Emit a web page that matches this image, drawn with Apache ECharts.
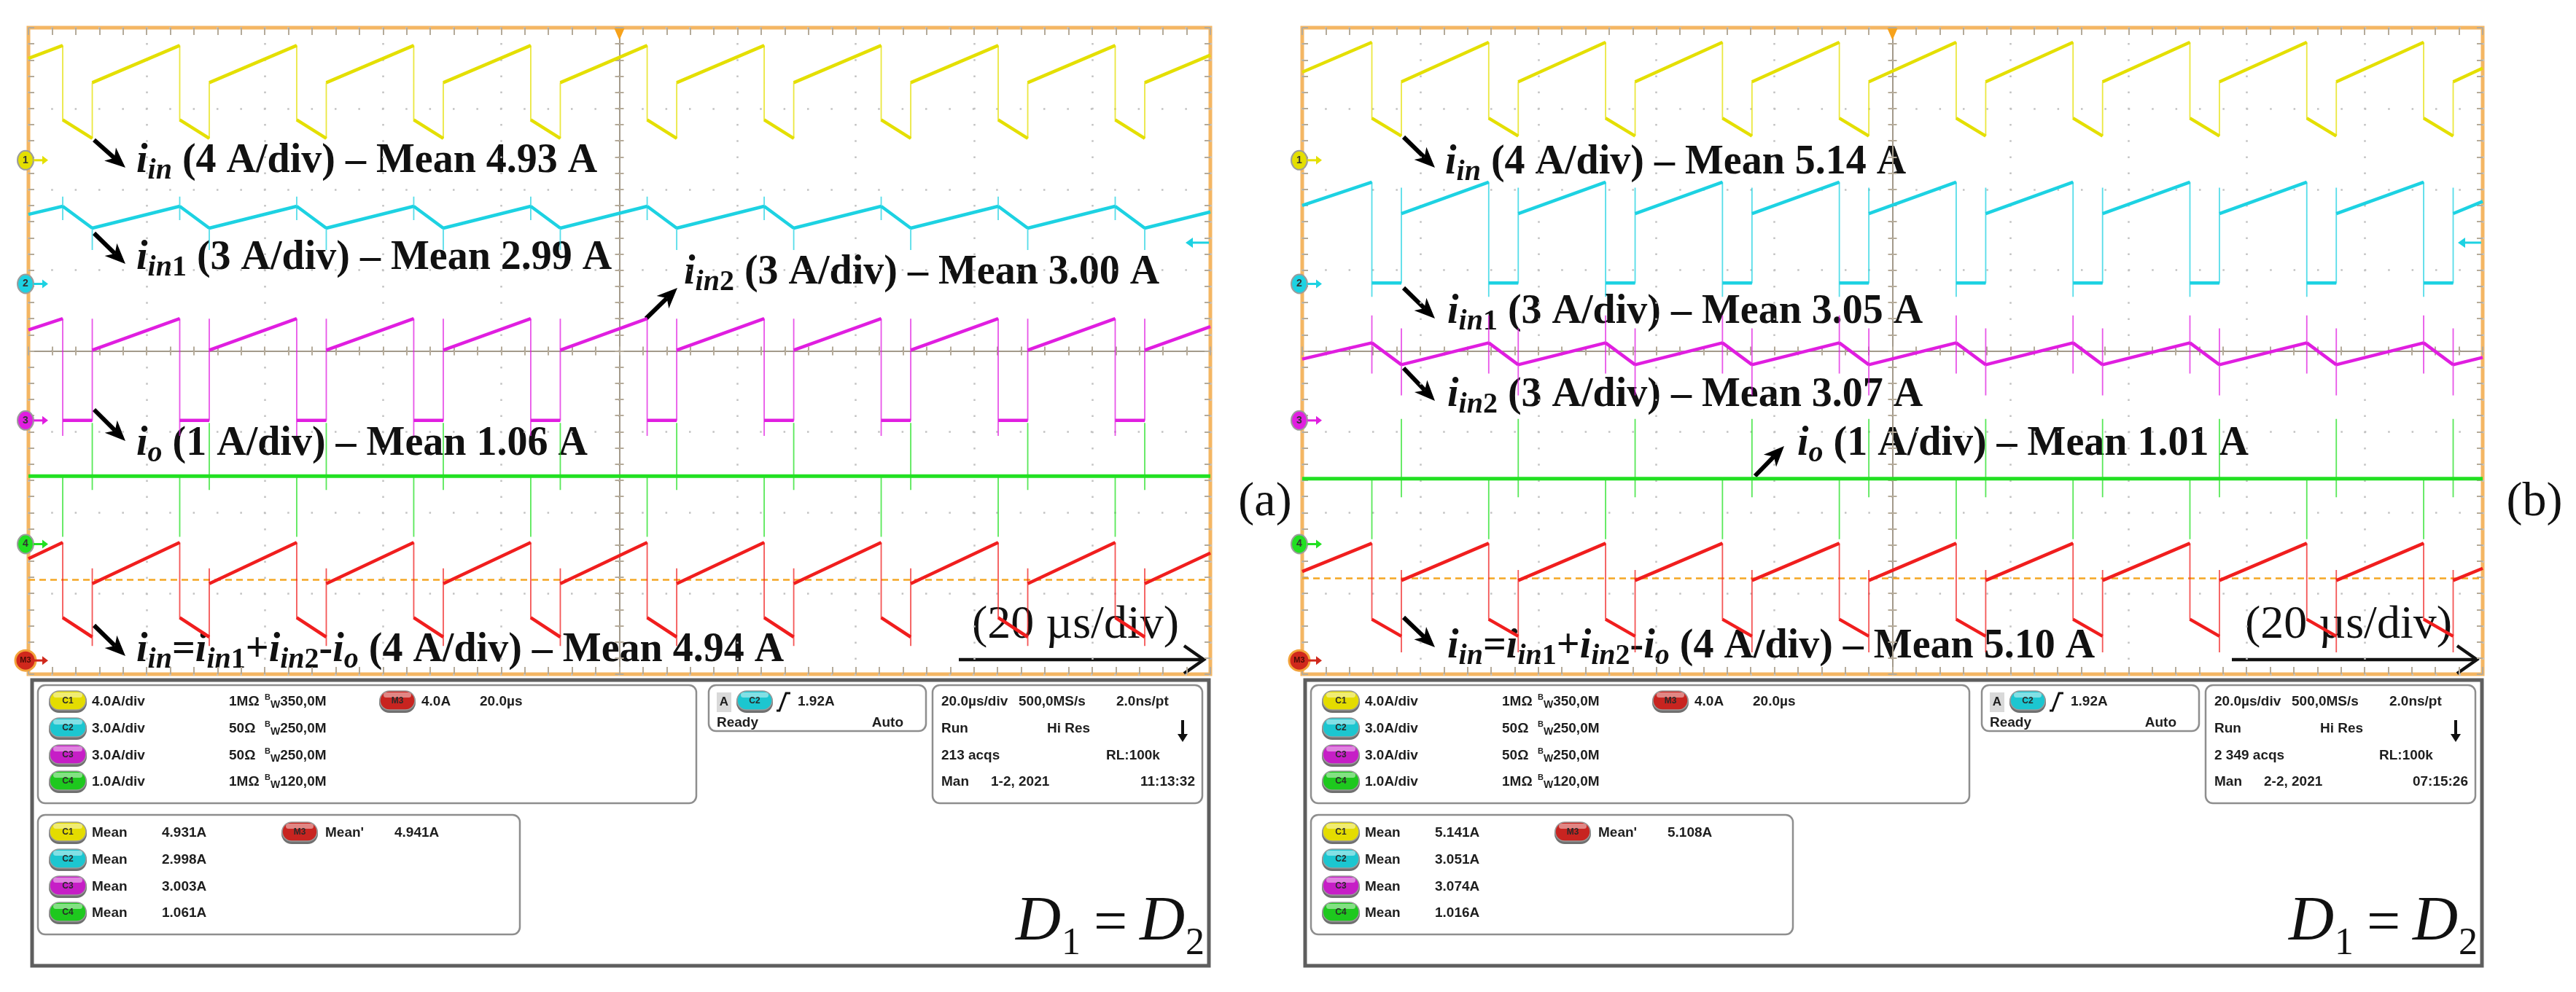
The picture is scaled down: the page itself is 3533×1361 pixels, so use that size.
<!DOCTYPE html>
<html>
<head>
<meta charset="utf-8">
<script src="https://cdn.jsdelivr.net/npm/echarts@6.0.0/dist/echarts.min.js"></script>
<style>
html,body{margin:0;padding:0;background:#ffffff;}
#chart{width:3533px;height:1361px;}
</style>
</head>
<body>
<div id="chart"></div>
<script>
// ---------------- DATA ----------------
// time in µs (20 µs/div, trigger at 0), vertical values in screen divisions (-4..4)
const yellowA = [[-100,3.62],
[-94.2,3.78],[-94.2,2.86],[-89.2,2.63],[-89.2,3.32],
[-74.4,3.78],[-74.4,2.86],[-69.4,2.63],[-69.4,3.32],
[-54.6,3.78],[-54.6,2.86],[-49.6,2.63],[-49.6,3.32],
[-34.8,3.78],[-34.8,2.86],[-29.8,2.63],[-29.8,3.32],
[-15.0,3.78],[-15.0,2.86],[-10.0,2.63],[-10.0,3.32],
[4.7,3.78],[4.7,2.86],[9.7,2.63],[9.7,3.32],
[24.5,3.78],[24.5,2.86],[29.5,2.63],[29.5,3.32],
[44.3,3.78],[44.3,2.86],[49.3,2.63],[49.3,3.32],
[64.1,3.78],[64.1,2.86],[69.1,2.63],[69.1,3.32],
[83.9,3.78],[83.9,2.86],[88.9,2.63],[88.9,3.32],
[100,3.66]];

const cyanA = [[-100,1.69],
[-94.2,1.79],[-94.2,1.91],[-94.2,1.62],[-94.2,1.79],[-89.2,1.52],[-89.2,1.25],[-89.2,1.52],
[-74.4,1.79],[-74.4,1.91],[-74.4,1.62],[-74.4,1.79],[-69.4,1.52],[-69.4,1.25],[-69.4,1.52],
[-54.6,1.79],[-54.6,1.91],[-54.6,1.62],[-54.6,1.79],[-49.6,1.52],[-49.6,1.25],[-49.6,1.52],
[-34.8,1.79],[-34.8,1.91],[-34.8,1.62],[-34.8,1.79],[-29.8,1.52],[-29.8,1.25],[-29.8,1.52],
[-15.0,1.79],[-15.0,1.91],[-15.0,1.62],[-15.0,1.79],[-10.0,1.52],[-10.0,1.25],[-10.0,1.52],
[4.7,1.79],[4.7,1.91],[4.7,1.62],[4.7,1.79],[9.7,1.52],[9.7,1.25],[9.7,1.52],
[24.5,1.79],[24.5,1.91],[24.5,1.62],[24.5,1.79],[29.5,1.52],[29.5,1.25],[29.5,1.52],
[44.3,1.79],[44.3,1.91],[44.3,1.62],[44.3,1.79],[49.3,1.52],[49.3,1.25],[49.3,1.52],
[64.1,1.79],[64.1,1.91],[64.1,1.62],[64.1,1.79],[69.1,1.52],[69.1,1.25],[69.1,1.52],
[83.9,1.79],[83.9,1.91],[83.9,1.62],[83.9,1.79],[88.9,1.52],[88.9,1.25],[88.9,1.52],
[100,1.72]];

const magentaA = [[-100,0.26],
[-94.2,0.40],[-94.2,-1.05],[-94.2,-0.86],[-89.2,-0.86],[-89.2,0.40],[-89.2,0.01],
[-74.4,0.40],[-74.4,-1.05],[-74.4,-0.86],[-69.4,-0.86],[-69.4,0.40],[-69.4,0.01],
[-54.6,0.40],[-54.6,-1.05],[-54.6,-0.86],[-49.6,-0.86],[-49.6,0.40],[-49.6,0.01],
[-34.8,0.40],[-34.8,-1.05],[-34.8,-0.86],[-29.8,-0.86],[-29.8,0.40],[-29.8,0.01],
[-15.0,0.40],[-15.0,-1.05],[-15.0,-0.86],[-10.0,-0.86],[-10.0,0.40],[-10.0,0.01],
[4.7,0.40],[4.7,-1.05],[4.7,-0.86],[9.7,-0.86],[9.7,0.40],[9.7,0.01],
[24.5,0.40],[24.5,-1.05],[24.5,-0.86],[29.5,-0.86],[29.5,0.40],[29.5,0.01],
[44.3,0.40],[44.3,-1.05],[44.3,-0.86],[49.3,-0.86],[49.3,0.40],[49.3,0.01],
[64.1,0.40],[64.1,-1.05],[64.1,-0.86],[69.1,-0.86],[69.1,0.40],[69.1,0.01],
[83.9,0.40],[83.9,-1.05],[83.9,-0.86],[88.9,-0.86],[88.9,0.40],[88.9,0.01],
[100,0.30]];

const greenA = [[-100,-1.55],
[-94.2,-1.55],[-94.2,-2.30],[-94.2,-1.55],[-89.2,-1.55],[-89.2,-0.89],[-89.2,-1.72],[-89.2,-1.55],
[-74.4,-1.55],[-74.4,-2.30],[-74.4,-1.55],[-69.4,-1.55],[-69.4,-0.89],[-69.4,-1.72],[-69.4,-1.55],
[-54.6,-1.55],[-54.6,-2.30],[-54.6,-1.55],[-49.6,-1.55],[-49.6,-0.89],[-49.6,-1.72],[-49.6,-1.55],
[-34.8,-1.55],[-34.8,-2.30],[-34.8,-1.55],[-29.8,-1.55],[-29.8,-0.89],[-29.8,-1.72],[-29.8,-1.55],
[-15.0,-1.55],[-15.0,-2.30],[-15.0,-1.55],[-10.0,-1.55],[-10.0,-0.89],[-10.0,-1.72],[-10.0,-1.55],
[4.7,-1.55],[4.7,-2.30],[4.7,-1.55],[9.7,-1.55],[9.7,-0.89],[9.7,-1.72],[9.7,-1.55],
[24.5,-1.55],[24.5,-2.30],[24.5,-1.55],[29.5,-1.55],[29.5,-0.89],[29.5,-1.72],[29.5,-1.55],
[44.3,-1.55],[44.3,-2.30],[44.3,-1.55],[49.3,-1.55],[49.3,-0.89],[49.3,-1.72],[49.3,-1.55],
[64.1,-1.55],[64.1,-2.30],[64.1,-1.55],[69.1,-1.55],[69.1,-0.89],[69.1,-1.72],[69.1,-1.55],
[83.9,-1.55],[83.9,-2.30],[83.9,-1.55],[88.9,-1.55],[88.9,-0.89],[88.9,-1.72],[88.9,-1.55],
[100,-1.55]];

const redA = [[-100,-2.57],
[-94.2,-2.37],[-94.2,-3.30],[-89.2,-3.54],[-89.2,-3.65],[-89.2,-2.69],[-89.2,-2.88],
[-74.4,-2.37],[-74.4,-3.30],[-69.4,-3.54],[-69.4,-3.65],[-69.4,-2.69],[-69.4,-2.88],
[-54.6,-2.37],[-54.6,-3.30],[-49.6,-3.54],[-49.6,-3.65],[-49.6,-2.69],[-49.6,-2.88],
[-34.8,-2.37],[-34.8,-3.30],[-29.8,-3.54],[-29.8,-3.65],[-29.8,-2.69],[-29.8,-2.88],
[-15.0,-2.37],[-15.0,-3.30],[-10.0,-3.54],[-10.0,-3.65],[-10.0,-2.69],[-10.0,-2.88],
[4.7,-2.37],[4.7,-3.30],[9.7,-3.54],[9.7,-3.65],[9.7,-2.69],[9.7,-2.88],
[24.5,-2.37],[24.5,-3.30],[29.5,-3.54],[29.5,-3.65],[29.5,-2.69],[29.5,-2.88],
[44.3,-2.37],[44.3,-3.30],[49.3,-3.54],[49.3,-3.65],[49.3,-2.69],[49.3,-2.88],
[64.1,-2.37],[64.1,-3.30],[69.1,-3.54],[69.1,-3.65],[69.1,-2.69],[69.1,-2.88],
[83.9,-2.37],[83.9,-3.30],[88.9,-3.54],[88.9,-3.65],[88.9,-2.69],[88.9,-2.88],
[100,-2.50]];

const yellowB = [[-100,3.45],
[-88.2,3.82],[-88.2,2.88],[-83.2,2.66],[-83.2,3.33],
[-68.4,3.82],[-68.4,2.88],[-63.4,2.66],[-63.4,3.33],
[-48.6,3.82],[-48.6,2.88],[-43.6,2.66],[-43.6,3.33],
[-28.8,3.82],[-28.8,2.88],[-23.8,2.66],[-23.8,3.33],
[-9.0,3.82],[-9.0,2.88],[-4.0,2.66],[-4.0,3.33],
[10.8,3.82],[10.8,2.88],[15.8,2.66],[15.8,3.33],
[30.6,3.82],[30.6,2.88],[35.6,2.66],[35.6,3.33],
[50.4,3.82],[50.4,2.88],[55.4,2.66],[55.4,3.33],
[70.2,3.82],[70.2,2.88],[75.2,2.66],[75.2,3.33],
[90.0,3.82],[90.0,2.88],[95.0,2.66],[95.0,3.33],
[100,3.50]];

const cyanB = [[-100,1.80],
[-88.2,2.09],[-88.2,0.67],[-88.2,0.84],[-83.2,0.84],[-83.2,2.02],[-83.2,1.70],
[-68.4,2.09],[-68.4,0.67],[-68.4,0.84],[-63.4,0.84],[-63.4,2.02],[-63.4,1.70],
[-48.6,2.09],[-48.6,0.67],[-48.6,0.84],[-43.6,0.84],[-43.6,2.02],[-43.6,1.70],
[-28.8,2.09],[-28.8,0.67],[-28.8,0.84],[-23.8,0.84],[-23.8,2.02],[-23.8,1.70],
[-9.0,2.09],[-9.0,0.67],[-9.0,0.84],[-4.0,0.84],[-4.0,2.02],[-4.0,1.70],
[10.8,2.09],[10.8,0.67],[10.8,0.84],[15.8,0.84],[15.8,2.02],[15.8,1.70],
[30.6,2.09],[30.6,0.67],[30.6,0.84],[35.6,0.84],[35.6,2.02],[35.6,1.70],
[50.4,2.09],[50.4,0.67],[50.4,0.84],[55.4,0.84],[55.4,2.02],[55.4,1.70],
[70.2,2.09],[70.2,0.67],[70.2,0.84],[75.2,0.84],[75.2,2.02],[75.2,1.70],
[90.0,2.09],[90.0,0.67],[90.0,0.84],[95.0,0.84],[95.0,2.02],[95.0,1.70],
[100,1.85]];

const magentaB = [[-100,-0.10],
[-88.2,0.10],[-88.2,0.44],[-88.2,-0.28],[-88.2,0.10],[-83.2,-0.17],[-83.2,-0.55],[-83.2,0.28],[-83.2,-0.17],
[-68.4,0.10],[-68.4,0.44],[-68.4,-0.28],[-68.4,0.10],[-63.4,-0.17],[-63.4,-0.55],[-63.4,0.28],[-63.4,-0.17],
[-48.6,0.10],[-48.6,0.44],[-48.6,-0.28],[-48.6,0.10],[-43.6,-0.17],[-43.6,-0.55],[-43.6,0.28],[-43.6,-0.17],
[-28.8,0.10],[-28.8,0.44],[-28.8,-0.28],[-28.8,0.10],[-23.8,-0.17],[-23.8,-0.55],[-23.8,0.28],[-23.8,-0.17],
[-9.0,0.10],[-9.0,0.44],[-9.0,-0.28],[-9.0,0.10],[-4.0,-0.17],[-4.0,-0.55],[-4.0,0.28],[-4.0,-0.17],
[10.8,0.10],[10.8,0.44],[10.8,-0.28],[10.8,0.10],[15.8,-0.17],[15.8,-0.55],[15.8,0.28],[15.8,-0.17],
[30.6,0.10],[30.6,0.44],[30.6,-0.28],[30.6,0.10],[35.6,-0.17],[35.6,-0.55],[35.6,0.28],[35.6,-0.17],
[50.4,0.10],[50.4,0.44],[50.4,-0.28],[50.4,0.10],[55.4,-0.17],[55.4,-0.55],[55.4,0.28],[55.4,-0.17],
[70.2,0.10],[70.2,0.44],[70.2,-0.28],[70.2,0.10],[75.2,-0.17],[75.2,-0.55],[75.2,0.28],[75.2,-0.17],
[90.0,0.10],[90.0,0.44],[90.0,-0.28],[90.0,0.10],[95.0,-0.17],[95.0,-0.55],[95.0,0.28],[95.0,-0.17],
[100,-0.08]];

const greenB = [[-100,-1.58],
[-88.2,-1.58],[-88.2,-2.33],[-88.2,-1.58],[-83.2,-1.58],[-83.2,-0.84],[-83.2,-1.81],[-83.2,-1.58],
[-68.4,-1.58],[-68.4,-2.33],[-68.4,-1.58],[-63.4,-1.58],[-63.4,-0.84],[-63.4,-1.81],[-63.4,-1.58],
[-48.6,-1.58],[-48.6,-2.33],[-48.6,-1.58],[-43.6,-1.58],[-43.6,-0.84],[-43.6,-1.81],[-43.6,-1.58],
[-28.8,-1.58],[-28.8,-2.33],[-28.8,-1.58],[-23.8,-1.58],[-23.8,-0.84],[-23.8,-1.81],[-23.8,-1.58],
[-9.0,-1.58],[-9.0,-2.33],[-9.0,-1.58],[-4.0,-1.58],[-4.0,-0.84],[-4.0,-1.81],[-4.0,-1.58],
[10.8,-1.58],[10.8,-2.33],[10.8,-1.58],[15.8,-1.58],[15.8,-0.84],[15.8,-1.81],[15.8,-1.58],
[30.6,-1.58],[30.6,-2.33],[30.6,-1.58],[35.6,-1.58],[35.6,-0.84],[35.6,-1.81],[35.6,-1.58],
[50.4,-1.58],[50.4,-2.33],[50.4,-1.58],[55.4,-1.58],[55.4,-0.84],[55.4,-1.81],[55.4,-1.58],
[70.2,-1.58],[70.2,-2.33],[70.2,-1.58],[75.2,-1.58],[75.2,-0.84],[75.2,-1.81],[75.2,-1.58],
[90.0,-1.58],[90.0,-2.33],[90.0,-1.58],[95.0,-1.58],[95.0,-0.84],[95.0,-1.81],[95.0,-1.58],
[100,-1.58]];

const redB = [[-100,-2.73],
[-88.2,-2.38],[-88.2,-3.32],[-83.2,-3.53],[-83.2,-3.73],[-83.2,-2.71],[-83.2,-2.84],
[-68.4,-2.38],[-68.4,-3.32],[-63.4,-3.53],[-63.4,-3.73],[-63.4,-2.71],[-63.4,-2.84],
[-48.6,-2.38],[-48.6,-3.32],[-43.6,-3.53],[-43.6,-3.73],[-43.6,-2.71],[-43.6,-2.84],
[-28.8,-2.38],[-28.8,-3.32],[-23.8,-3.53],[-23.8,-3.73],[-23.8,-2.71],[-23.8,-2.84],
[-9.0,-2.38],[-9.0,-3.32],[-4.0,-3.53],[-4.0,-3.73],[-4.0,-2.71],[-4.0,-2.84],
[10.8,-2.38],[10.8,-3.32],[15.8,-3.53],[15.8,-3.73],[15.8,-2.71],[15.8,-2.84],
[30.6,-2.38],[30.6,-3.32],[35.6,-3.53],[35.6,-3.73],[35.6,-2.71],[35.6,-2.84],
[50.4,-2.38],[50.4,-3.32],[55.4,-3.53],[55.4,-3.73],[55.4,-2.71],[55.4,-2.84],
[70.2,-2.38],[70.2,-3.32],[75.2,-3.53],[75.2,-3.73],[75.2,-2.71],[75.2,-2.84],
[90.0,-2.38],[90.0,-3.32],[95.0,-3.53],[95.0,-3.73],[95.0,-2.71],[95.0,-2.84],
[100,-2.69]];

const channelLevels = [2.36, 0.83, -0.86, -2.39, -3.83];   // ground markers 1,2,3,4,M3
const channelNames = ['1','2','3','4','M3'];
const trigLevel = 1.34;
const refLevelA = -2.83, refLevelB = -2.81;

const meanLabelsA = ['4.93','2.99','3.00','1.06','4.94'];
const meanLabelsB = ['5.14','3.05','3.07','1.01','5.10'];
const chScale = ['4.0A/div','3.0A/div','3.0A/div','1.0A/div'];
const chImp = ['1M\u03a9','50\u03a9','50\u03a9','1M\u03a9'];
const chBw = ['350,0M','250,0M','250,0M','120,0M'];
const meanValsA = ['4.931A','2.998A','3.003A','1.061A'];
const meanValsB = ['5.141A','3.051A','3.074A','1.016A'];
const m3MeanA = '4.941A', m3MeanB = '5.108A';
const acqA = '213 acqs', acqB = '2 349 acqs';
const dateA = '1-2, 2021', dateB = '2-2, 2021';
const clockA = '11:13:32', clockB = '07:15:26';

// ---------------- STYLE ----------------
const COL = {y:'#e4df00', c:'#1dd2e2', m:'#e01ee0', g:'#22e022', r:'#f01e1e'};
const FRAME = '#f4b663', TICK = '#b5ab9a', DOT = '#c2c2c2', CTR = '#a39a8b';
const SERIF = '"Liberation Serif", "Times New Roman", serif';
const SANS = '"Liberation Sans", Arial, sans-serif';

const chart = echarts.init(document.getElementById('chart'), null, {renderer:'canvas'});

function tickStyle(len){
  return {
    axisTick:{show:true, inside:true, length:len, lineStyle:{color:TICK, width:2}},
    minorTick:{show:true, splitNumber:5, length:len, lineStyle:{color:TICK, width:2}}
  };
}
function xAxes(g, yBase){
  const c = {gridIndex:g, type:'value', min:-100, max:100, interval:20, axisLabel:{show:false}, z:3, silent:true};
  return [
    Object.assign({}, c, {position:'bottom', axisLine:{show:false, onZero:false},
      splitLine:{show:true, lineStyle:{color:DOT, width:2.5, type:[2.5,19.7], dashOffset:1.2}}}, tickStyle(10)),
    Object.assign({}, c, {position:'top', axisLine:{show:false, onZero:false}, splitLine:{show:false}}, tickStyle(10)),
    Object.assign({}, c, {position:'bottom', axisLine:{show:true, onZero:true, onZeroAxisIndex:yBase, lineStyle:{color:CTR, width:2}}, splitLine:{show:false}}, tickStyle(6)),
    Object.assign({}, c, {position:'top', axisLine:{show:true, onZero:true, onZeroAxisIndex:yBase, lineStyle:{color:CTR, width:2}}, splitLine:{show:false}}, tickStyle(6))
  ];
}
function yAxes(g, xBase){
  const c = {gridIndex:g, type:'value', min:-4, max:4, interval:1, axisLabel:{show:false}, z:3, silent:true};
  return [
    Object.assign({}, c, {position:'left', axisLine:{show:false, onZero:false},
      splitLine:{show:true, lineStyle:{color:DOT, width:2.5, type:[2.5,29.9], dashOffset:1.2}}}, tickStyle(8)),
    Object.assign({}, c, {position:'right', axisLine:{show:false, onZero:false}, splitLine:{show:false}}, tickStyle(8)),
    Object.assign({}, c, {position:'left', axisLine:{show:true, onZero:true, onZeroAxisIndex:xBase, lineStyle:{color:CTR, width:2}}, splitLine:{show:false}}, tickStyle(6)),
    Object.assign({}, c, {position:'right', axisLine:{show:true, onZero:true, onZeroAxisIndex:xBase, lineStyle:{color:CTR, width:2}}, splitLine:{show:false}}, tickStyle(6))
  ];
}
function brk(pts){
  const o = [];
  for (let i = 0; i < pts.length; i++){
    if (i > 0 && pts[i][0] === pts[i-1][0]) o.push([pts[i][0], '-']);
    o.push(pts[i]);
  }
  return o;
}
function trace(pts, color, ai, wThick, extra){
  return [
    Object.assign({type:'line', xAxisIndex:ai, yAxisIndex:ai, data:pts, symbol:'none', showSymbol:false,
      animation:false, silent:true, z:5, lineStyle:{color:color, width:1.8, opacity:0.75}}, extra || {}),
    {type:'line', xAxisIndex:ai, yAxisIndex:ai, data:brk(pts), symbol:'none', showSymbol:false, connectNulls:false,
      animation:false, silent:true, z:6, lineStyle:{color:color, width:wThick}}
  ];
}
function refLine(v){
  return {markLine:{silent:true, symbol:'none', animation:false, label:{show:false},
    lineStyle:{color:'#f5a623', type:[9,6], width:2.5}, data:[{yAxis:v}]}};
}

const option = {
  animation:false,
  backgroundColor:'#ffffff',
  grid:[
    {left:39, top:38, width:1621, height:887, show:true, borderColor:FRAME, borderWidth:5, backgroundColor:'transparent'},
    {left:1786, top:38, width:1619, height:887, show:true, borderColor:FRAME, borderWidth:5, backgroundColor:'transparent'}
  ],
  xAxis: xAxes(0, 0).concat(xAxes(1, 4)),
  yAxis: yAxes(0, 0).concat(yAxes(1, 4)),
  series: [].concat(
    trace(yellowA, COL.y, 0, 4.5),
    trace(cyanA, COL.c, 0, 4.5),
    trace(magentaA, COL.m, 0, 4.5),
    trace(greenA, COL.g, 0, 5),
    trace(redA, COL.r, 0, 4.5, refLine(refLevelA)),
    trace(yellowB, COL.y, 4, 4.5),
    trace(cyanB, COL.c, 4, 4.5),
    trace(magentaB, COL.m, 4, 4.5),
    trace(greenB, COL.g, 4, 5),
    trace(redB, COL.r, 4, 4.5, refLine(refLevelB))
  )
};
chart.setOption(option);

// ---------------- GRAPHICS (annotations, markers, scope panels) ----------------
const G = [];
function T(x, y, text, o){
  o = o || {};
  const st = {x:x, y:y, text:text, fill:o.fill || '#1e1e1e', fontFamily:o.family || SANS, fontSize:o.size || 19,
    fontWeight:o.weight || 'bold', fontStyle:o.fstyle || 'normal', align:o.align || 'left', verticalAlign:o.va || 'middle',
    textAlign:o.align || 'left', textVerticalAlign:o.va || 'middle'};
  if (o.rich) st.rich = o.rich;
  return {type:'text', z:o.z || 12, silent:true, style:st};
}
function arrow(x1, y1, x2, y2, o){
  o = o || {};
  const w = o.w || 6, hl = o.hl || 28, hw = o.hw || 12, color = o.color || '#000', z = o.z || 2;
  const dx = x2 - x1, dy = y2 - y1, L = Math.hypot(dx, dy), ux = dx / L, uy = dy / L;
  const bx = x2 - ux * hl, by = y2 - uy * hl, px = -uy, py = ux;
  const nx = x2 - ux * hl * 0.72, ny = y2 - uy * hl * 0.72;
  return [
    {type:'line', z:z, silent:true, shape:{x1:x1, y1:y1, x2:nx, y2:ny}, style:{stroke:color, lineWidth:w}},
    {type:'polygon', z:z, silent:true, shape:{points:[[x2,y2],[bx+px*hw,by+py*hw],[nx,ny],[bx-px*hw,by-py*hw]]}, style:{fill:color}}
  ];
}

// channel ground markers, trigger markers
[[0, 0], [1, 4]].forEach(function(pa){
  const ai = pa[1];
  const xL = chart.convertToPixel({xAxisIndex:ai}, -100);
  const xR = chart.convertToPixel({xAxisIndex:ai}, 100);
  const xC = chart.convertToPixel({xAxisIndex:ai}, 0);
  const yTop = chart.convertToPixel({yAxisIndex:ai}, 4);
  const fills = [COL.y, COL.c, COL.m, COL.g, '#d0281c'];
  channelLevels.forEach(function(lv, i){
    const y = chart.convertToPixel({yAxisIndex:ai}, lv);
    const cx = xL - 4;
    if (i < 4) {
      G.push({type:'ellipse', z:15, silent:true, shape:{cx:cx, cy:y, rx:11, ry:13}, style:{fill:fills[i], stroke:'#9c9c9c', lineWidth:2}});
      G.push(T(cx, y, channelNames[i], {size:14, fill:'#333', align:'center', z:16}));
    } else {
      G.push({type:'circle', z:15, silent:true, shape:{cx:cx, cy:y, r:14}, style:{fill:fills[i], stroke:'#f2a23a', lineWidth:3}});
      G.push(T(cx, y, channelNames[i], {size:11, fill:'#4a0c06', align:'center', z:16}));
    }
    G.push({type:'line', z:15, silent:true, shape:{x1:cx+11, y1:y, x2:cx+27, y2:y}, style:{stroke:fills[i], lineWidth:3}});
    G.push({type:'polygon', z:15, silent:true, shape:{points:[[cx+31,y],[cx+23,y-6],[cx+23,y+6]]}, style:{fill:fills[i]}});
  });
  // trigger position (top) and level (right)
  G.push({type:'polygon', z:15, silent:true, shape:{points:[[xC-7,yTop+1],[xC+7,yTop+1],[xC,yTop+17]]}, style:{fill:'#f7a21b'}});
  const yt = chart.convertToPixel({yAxisIndex:ai}, trigLevel);
  G.push({type:'line', z:15, silent:true, shape:{x1:xR-26, y1:yt, x2:xR-2, y2:yt}, style:{stroke:COL.c, lineWidth:3}});
  G.push({type:'polygon', z:15, silent:true, shape:{points:[[xR-34,yt],[xR-24,yt-7],[xR-24,yt+7]]}, style:{fill:COL.c}});
});

// annotations
const annRich = {
  n:{fontFamily:SERIF, fontWeight:'bold', fontSize:56, lineHeight:64, fill:'#111'},
  it:{fontFamily:SERIF, fontWeight:'bold', fontStyle:'italic', fontSize:56, lineHeight:64, fill:'#111'},
  s:{fontFamily:SERIF, fontWeight:'bold', fontStyle:'italic', fontSize:40, lineHeight:30, padding:[26,0,0,0], fill:'#111'},
  sr:{fontFamily:SERIF, fontWeight:'bold', fontSize:40, lineHeight:30, padding:[26,0,0,0], fill:'#111'}
};
function annTexts(m){
  return [
    '{it|i}{s|in}{n| (4 A/div) \u2013 Mean ' + m[0] + ' A}',
    '{it|i}{s|in}{sr|1}{n| (3 A/div) \u2013 Mean ' + m[1] + ' A}',
    '{it|i}{s|in}{sr|2}{n| (3 A/div) \u2013 Mean ' + m[2] + ' A}',
    '{it|i}{s|o}{n| (1 A/div) \u2013 Mean ' + m[3] + ' A}',
    '{it|i}{s|in}{n|=}{it|i}{s|in}{sr|1}{n|+}{it|i}{s|in}{sr|2}{n|-}{it|i}{s|o}{n| (4 A/div) \u2013 Mean ' + m[4] + ' A}'
  ];
}
const annPosA = [[187,222],[187,355],[938,375],[187,610],[187,893]];
const annPosB = [[1982,224],[1985,429],[1985,543],[2465,610],[1985,888]];
const arrowsA = [[129,192,172,230],[129,320,172,362],[886,437,929,395],[129,562,172,605],[129,858,172,900]];
const arrowsB = [[1925,188,1968,230],[1925,395,1968,437],[1925,505,1968,550],[2407,653,2447,612],[1925,847,1968,888]];
[[annPosA, arrowsA, annTexts(meanLabelsA)], [annPosB, arrowsB, annTexts(meanLabelsB)]].forEach(function(set){
  set[2].forEach(function(txt, i){
    G.push(T(set[0][i][0], set[0][i][1], txt, {rich:annRich, family:SERIF, size:56, z:1}));
    const a = set[1][i];
    arrow(a[0], a[1], a[2], a[3], {z:2}).forEach(function(e){ G.push(e); });
  });
});
// time-base annotation
[[1333, 1315, 1651], [3079, 3061, 3397]].forEach(function(p){
  G.push(T(p[0], 858, '(20 \u00b5s/div)', {family:SERIF, size:64, weight:'normal', fill:'#111', z:1}));
  G.push({type:'line', z:2, silent:true, shape:{x1:p[1], y1:905, x2:p[2], y2:905}, style:{stroke:'#111', lineWidth:4.5}});
  G.push({type:'polyline', z:2, silent:true, shape:{points:[[p[2]-27,886],[p[2],905],[p[2]-27,924]]}, style:{stroke:'#111', lineWidth:4.5, fill:null}});
});
G.push(T(1735, 690, '(a)', {family:SERIF, size:66, weight:'normal', fill:'#111', align:'center'}));
G.push(T(3476, 690, '(b)', {family:SERIF, size:66, weight:'normal', fill:'#111', align:'center'}));

// scope info panels
const badgeFill = ['#e4dc00', '#1cc6d0', '#c61ec6', '#1ec81e'];
function badge(x, cy, w, label, fill){
  return [
    {type:'rect', z:13, silent:true, shape:{x:x, y:cy-14, width:w, height:29, r:14}, style:{fill:'#707070'}},
    {type:'rect', z:14, silent:true, shape:{x:x+1, y:cy-15, width:w-2, height:26, r:13}, style:{fill:fill, stroke:'#9a9a9a', lineWidth:1.5}},
    {type:'rect', z:15, silent:true, shape:{x:x+6, y:cy-13, width:w-12, height:7, r:3.5}, style:{fill:'rgba(255,255,255,0.45)'}},
    T(x + w/2, cy-1, label, {size:12, fill:'#2a2a2a', align:'center', z:16})
  ];
}
const bwRich = {
  t:{fontFamily:SANS, fontWeight:'bold', fontSize:19, lineHeight:26, fill:'#1e1e1e'},
  b:{fontFamily:SANS, fontWeight:'bold', fontSize:11, lineHeight:12, padding:[0,0,12,0], fill:'#1e1e1e'},
  w:{fontFamily:SANS, fontWeight:'bold', fontSize:14, lineHeight:14, padding:[9,0,0,0], fill:'#1e1e1e'}
};
function infoPanel(dx, meanVals, m3Mean, acq, date, clock){
  const e = [];
  const box = function(x, y, w, h, r, lw, stroke){
    return {type:'rect', z:10, silent:true, shape:{x:x+dx, y:y, width:w, height:h, r:r}, style:{fill:'#fff', stroke:stroke || '#8e8e8e', lineWidth:lw || 2.5}};
  };
  e.push(box(44, 933, 1614, 392, 0, 5, '#5e5e5e'));
  e.push(box(52, 940, 903, 162, 10));
  e.push(box(52, 1118, 661, 164, 10));
  e.push(box(972, 940, 298, 63, 10));
  e.push(box(1279, 940, 370, 162, 10));
  const rowsY = [963, 1000, 1037, 1073], meanY = [1143, 1180, 1217, 1253];
  rowsY.forEach(function(y, i){
    badge(67+dx, y, 52, 'C' + (i+1), badgeFill[i]).forEach(function(q){ e.push(q); });
    e.push(T(126+dx, y, chScale[i]));
    e.push(T(314+dx, y, chImp[i]));
    e.push(T(363+dx, y, '{b|B}{w|W}{t|' + chBw[i] + '}', {rich:bwRich}));
  });
  badge(520+dx, 963, 50, 'M3', '#c82420').forEach(function(q){ e.push(q); });
  e.push(T(578+dx, 963, '4.0A'));
  e.push(T(658+dx, 963, '20.0\u00b5s'));
  meanY.forEach(function(y, i){
    badge(67+dx, y, 52, 'C' + (i+1), badgeFill[i]).forEach(function(q){ e.push(q); });
    e.push(T(126+dx, y, 'Mean'));
    e.push(T(222+dx, y, meanVals[i]));
  });
  badge(386+dx, 1143, 50, 'M3', '#c82420').forEach(function(q){ e.push(q); });
  e.push(T(446+dx, 1143, "Mean'"));
  e.push(T(541+dx, 1143, m3Mean));
  // trigger box
  e.push({type:'rect', z:12, silent:true, shape:{x:983+dx, y:950, width:20, height:27}, style:{fill:'#d9d9d9'}});
  e.push(T(993+dx, 963, 'A', {align:'center', size:17}));
  badge(1010+dx, 963, 50, 'C2', badgeFill[1]).forEach(function(q){ e.push(q); });
  e.push({type:'polyline', z:12, silent:true, shape:{points:[[1065+dx,975],[1069+dx,975],[1078+dx,951],[1084+dx,951]]}, style:{stroke:'#111', lineWidth:3, fill:null}});
  e.push(T(1094+dx, 963, '1.92A'));
  e.push(T(983+dx, 992, 'Ready'));
  e.push(T(1239+dx, 992, 'Auto', {align:'right'}));
  // time base box
  e.push(T(1291+dx, 963, '20.0\u00b5s/div'));
  e.push(T(1397+dx, 963, '500,0MS/s'));
  e.push(T(1531+dx, 963, '2.0ns/pt'));
  e.push(T(1291+dx, 1000, 'Run'));
  e.push(T(1436+dx, 1000, 'Hi Res'));
  e.push({type:'line', z:12, silent:true, shape:{x1:1622+dx, y1:988, x2:1622+dx, y2:1009}, style:{stroke:'#111', lineWidth:4}});
  e.push({type:'polygon', z:12, silent:true, shape:{points:[[1615+dx,1007],[1629+dx,1007],[1622+dx,1018]]}, style:{fill:'#111'}});
  e.push(T(1291+dx, 1037, acq));
  e.push(T(1517+dx, 1037, 'RL:100k'));
  e.push(T(1291+dx, 1073, 'Man'));
  e.push(T(1359+dx, 1073, date));
  e.push(T(1639+dx, 1073, clock, {align:'right'}));
  // D1 = D2
  const sf = {family:SERIF, weight:'normal', fill:'#111'};
  e.push(T(1393+dx, 1266, 'D', Object.assign({size:86, fstyle:'italic'}, sf)));
  e.push(T(1456+dx, 1295, '1', Object.assign({size:52}, sf)));
  e.push(T(1500+dx, 1269, '=', Object.assign({size:82}, sf)));
  e.push(T(1563+dx, 1266, 'D', Object.assign({size:86, fstyle:'italic'}, sf)));
  e.push(T(1626+dx, 1295, '2', Object.assign({size:52}, sf)));
  return e;
}
infoPanel(0, meanValsA, m3MeanA, acqA, dateA, clockA).forEach(function(q){ G.push(q); });
infoPanel(1746, meanValsB, m3MeanB, acqB, dateB, clockB).forEach(function(q){ G.push(q); });

chart.setOption({graphic:{elements:G}});
</script>
</body>
</html>
